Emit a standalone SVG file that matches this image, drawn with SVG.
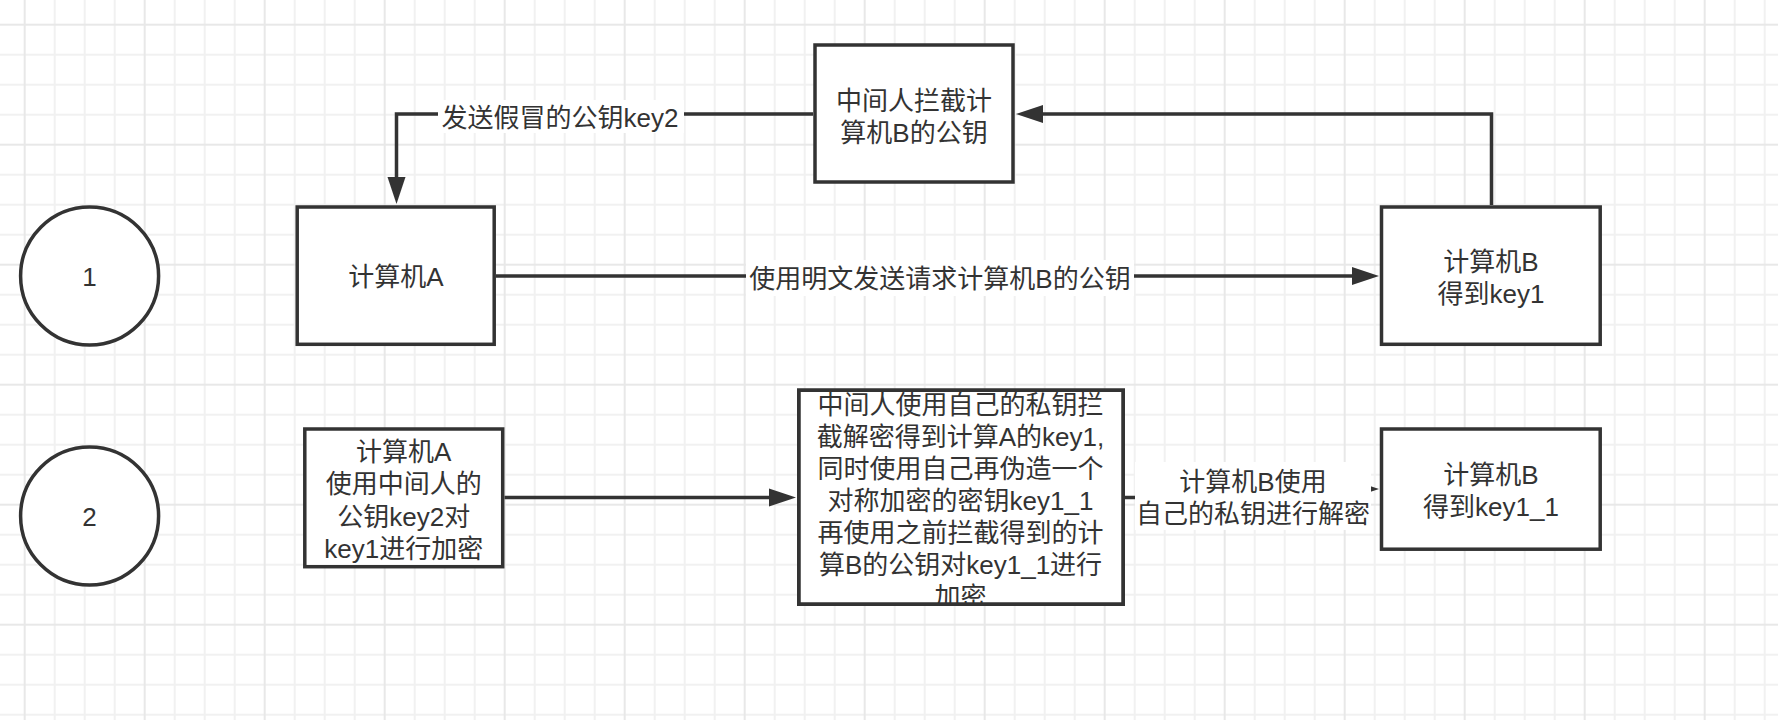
<svg xmlns="http://www.w3.org/2000/svg" width="1778" height="720" viewBox="0 0 1778 720">
  <style>
    .node { fill: #ffffff; stroke: #333333; stroke-width: 3.5; }
    .edge { fill: none; stroke: #333333; stroke-width: 3.5; }
    .txt { font-family: "Liberation Sans", "Noto Sans CJK SC", sans-serif; font-size: 26px; fill: #333333; text-anchor: middle; }
    .lblbg { fill: #ffffff; stroke: none; }
  </style>
  <defs>
    <pattern id="grid" patternUnits="userSpaceOnUse" x="9.7" y="9.7" width="120" height="120">
      <path d="M45 0V120M75 0V120M105 0V120M0 45H120M0 75H120M0 105H120" stroke="#f1f1f1" stroke-width="2" fill="none"/>
      <path d="M15 0V120M0 15H120" stroke="#e8e8e8" stroke-width="2" fill="none"/>
    </pattern>
    <marker id="arrow" markerUnits="userSpaceOnUse" markerWidth="28" markerHeight="20" refX="0" refY="9" orient="auto" overflow="visible">
      <path d="M0 0 L27 9 L0 18 Z" fill="#333333"/>
    </marker>
    <clipPath id="midclip">
      <rect x="798" y="391" width="326" height="213"/>
    </clipPath>
  </defs>

  <rect x="0" y="0" width="1778" height="720" fill="#ffffff"/>
  <rect x="0" y="0" width="1778" height="720" fill="url(#grid)"/>

  <g id="connectors">
    <path class="edge" d="M813 114 H396.5 V177" marker-end="url(#arrow)"/>
    <path class="edge" d="M1491.5 205 V114 H1043" marker-end="url(#arrow)"/>
    <path class="edge" d="M496 276 H1352" marker-end="url(#arrow)"/>
    <path class="edge" d="M504.5 497.5 H769" marker-end="url(#arrow)"/>
    <path class="edge" d="M1125 497.5 H1250 V489 H1352" marker-end="url(#arrow)"/>
    <g id="edge-labels">
      <rect class="lblbg" x="438" y="100" width="246" height="33"/>
      <text class="txt" x="560" y="127">发送假冒的公钥key2</text>
      <rect class="lblbg" x="746" y="260" width="388" height="36"/>
      <text class="txt" x="940" y="287.5">使用明文发送请求计算机B的公钥</text>
      <rect class="lblbg" x="1135" y="462" width="236" height="68"/>
      <text class="txt" x="1253" y="490.7">计算机B使用</text>
      <text class="txt" x="1253" y="523.3">自己的私钥进行解密</text>
    </g>
  </g>

  <g id="step1">
    <circle class="node" cx="89.6" cy="276" r="69"/>
    <text class="txt" x="89.6" y="285.5">1</text>
  </g>
  <g id="step2">
    <circle class="node" cx="89.6" cy="516" r="69"/>
    <text class="txt" x="89.6" y="525.5">2</text>
  </g>

  <g id="computerA1">
    <rect class="node" x="297.2" y="207" width="197" height="137.3"/>
    <text class="txt" x="396" y="286">计算机A</text>
  </g>

  <g id="mitm1">
    <rect class="node" x="815" y="45" width="198" height="137"/>
    <text class="txt" x="914" y="110">中间人拦截计</text>
    <text class="txt" x="914" y="141.5">算机B的公钥</text>
  </g>

  <g id="computerB1">
    <rect class="node" x="1381.5" y="207" width="218.7" height="137.3"/>
    <text class="txt" x="1491" y="271">计算机B</text>
    <text class="txt" x="1491" y="302.5">得到key1</text>
  </g>

  <g id="computerA2">
    <rect class="node" x="304.8" y="429" width="197.9" height="137.7"/>
    <text class="txt" x="403.7" y="461">计算机A</text>
    <text class="txt" x="403.7" y="493.4">使用中间人的</text>
    <text class="txt" x="403.7" y="525.8">公钥key2对</text>
    <text class="txt" x="403.7" y="558.2">key1进行加密</text>
  </g>

  <g id="mitm2">
    <rect class="node" x="798.75" y="390.25" width="324.5" height="214"/>
    <g clip-path="url(#midclip)">
      <text class="txt" x="960.5" y="414.3">中间人使用自己的私钥拦</text>
      <text class="txt" x="960.5" y="446.3">截解密得到计算A的key1,</text>
      <text class="txt" x="960.5" y="478.3">同时使用自己再伪造一个</text>
      <text class="txt" x="960.5" y="510.3">对称加密的密钥key1_1</text>
      <text class="txt" x="960.5" y="542.3">再使用之前拦截得到的计</text>
      <text class="txt" x="960.5" y="574.3">算B的公钥对key1_1进行</text>
      <text class="txt" x="960.5" y="606.3">加密</text>
    </g>
    <rect x="798.75" y="390.25" width="324.5" height="214" fill="none" stroke="#333333" stroke-width="3.5"/>
  </g>

  <g id="computerB2">
    <rect class="node" x="1381.5" y="429" width="218.7" height="120.2"/>
    <text class="txt" x="1491" y="484">计算机B</text>
    <text class="txt" x="1491" y="515.8">得到key1_1</text>
  </g>
</svg>
